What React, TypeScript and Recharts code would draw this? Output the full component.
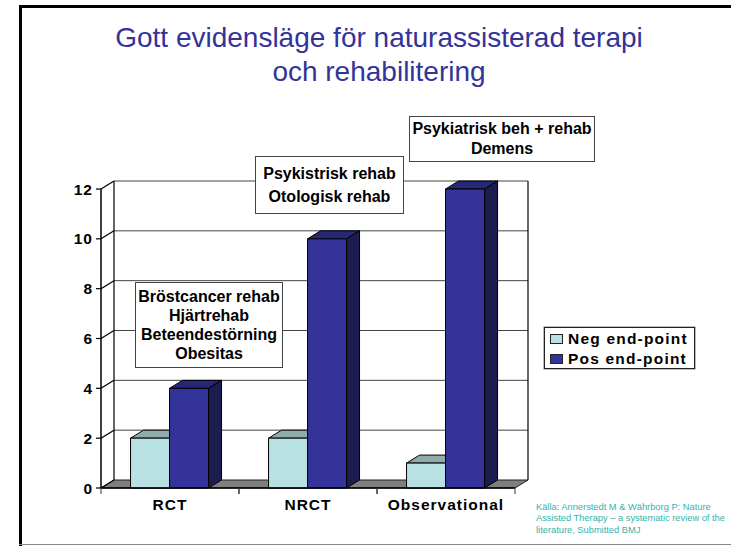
import { Bar, BarChart, CartesianGrid, Legend, XAxis, YAxis } from "recharts";

const categories = ["RCT", "NRCT", "Observational"];
const negEndPoint = [2, 2, 1];
const posEndPoint = [4, 10, 12];
const yTicks = [0, 2, 4, 6, 8, 10, 12];
const titleLines = ["Gott evidensläge för naturassisterad terapi", "och rehabilitering"];
const sourceLines = [
  "Källa: Annerstedt M & Währborg P: Nature",
  "Assisted Therapy –  a systematic review of  the",
  "literature, Submitted BMJ",
];

const data = categories.map((name, i) => ({
  name,
  neg: negEndPoint[i],
  pos: posEndPoint[i],
}));

const FONT = "'Liberation Sans', Arial, sans-serif";
const DX = 13;
const DY = 8;
const PLOT_H = 299;
const BAND = 138;

function bar3d(front: string, top: string, side: string) {
  return (p: any) => {
    const { x, y, width, height } = p;
    return (
      <g stroke="#000" strokeWidth={1} strokeLinejoin="round">
        <path
          fill={top}
          d={`M${x},${y}l${DX},${-DY}h${width}l${-DX},${DY}z`}
        />
        <path
          fill={side}
          d={`M${x + width},${y}l${DX},${-DY}v${height}l${-DX},${DY}z`}
        />
        <rect x={x} y={y} width={width} height={height} fill={front} />
      </g>
    );
  };
}

function gridLine(p: any) {
  const { x1, x2, y1 } = p;
  const isTop = y1 < 195;
  const isFloor = y1 > 480;
  return (
    <g key={`g-${y1}`} fill="none">
      {isFloor && (
        <path
          d={`M${x1},${y1}l${DX},${-DY}H${x2 + DX}l${-DX},${DY}z`}
          fill="#7f7f7f"
          stroke="#222"
        />
      )}
      {isTop && (
        <path
          d={`M${x1 + DX},${y1 - DY}v${PLOT_H}M${x2 + DX},${y1 - DY}v${PLOT_H}`}
          stroke="#000"
          strokeWidth={1.2}
        />
      )}
      {!isFloor && (
        <path d={`M${x1 + DX},${y1 - DY}H${x2 + DX}`} stroke="#444" />
      )}
      <path d={`M${x1},${y1}l${DX},${-DY}`} stroke="#000" strokeWidth={1.2} />
    </g>
  );
}

function CategoryTick(p: any) {
  const { x, y, payload } = p;
  const left = x - BAND / 2;
  return (
    <g>
      <path
        d={`M${left},${y - 8}v6M${left + BAND},${y - 8}v6`}
        stroke="#333"
        strokeWidth={1}
      />
      <text
        x={x}
        y={y + 14}
        textAnchor="middle"
        fontFamily={FONT}
        fontSize={15.5}
        fontWeight={700}
        fill="#000"
        letterSpacing={1}
      >
        {payload.value}
      </text>
    </g>
  );
}

function LegendBox() {
  const rows = [
    { label: "Neg end-point", color: "#b9e0e3" },
    { label: "Pos end-point", color: "#333399" },
  ];
  return (
    <div
      style={{
        boxSizing: "border-box",
        width: 151,
        height: 42,
        border: "1px solid #222",
        boxShadow: "0 0 0 0.5px #777",
        background: "#fff",
        padding: "2px 0 0 5px",
        fontFamily: FONT,
        fontSize: 15.5,
        fontWeight: 700,
        letterSpacing: 1.2,
        color: "#000",
        textAlign: "left",
        whiteSpace: "nowrap",
      }}
    >
      {rows.map((r) => (
        <div key={r.label} style={{ display: "flex", alignItems: "center", height: 17, marginBottom: 3.5 }}>
          <span
            style={{
              display: "inline-block",
              boxSizing: "border-box",
              width: 13,
              height: 10,
              marginRight: 5,
              background: r.color,
              border: "1px solid #222",
            }}
          />
          {r.label}
        </div>
      ))}
    </div>
  );
}

function Note({ left, top, width, height, lines, lineHeight = 19 }: { left: number; top: number; width: number; height: number; lines: string[]; lineHeight?: number }) {
  return (
    <div
      style={{
        position: "absolute",
        left,
        top,
        width,
        height,
        boxSizing: "border-box",
        border: "1px solid #444",
        background: "#fff",
        display: "flex",
        flexDirection: "column",
        justifyContent: "center",
        alignItems: "center",
        fontFamily: FONT,
        fontSize: 16,
        fontWeight: 700,
        lineHeight: `${lineHeight}px`,
        color: "#000",
        whiteSpace: "nowrap",
      }}
    >
      {lines.map((l) => (
        <div key={l}>{l}</div>
      ))}
    </div>
  );
}

export default function App() {
  return (
    <div style={{ position: "absolute", left: 0, top: 0, width: 731, height: 546, overflow: "hidden", background: "#fff" }}>
      {/* slide frame */}
      <div style={{ position: "absolute", left: 19, top: 5, width: 712, height: 3, background: "#000" }} />
      <div style={{ position: "absolute", left: 19, top: 5, width: 3, height: 541, background: "#000" }} />
      <div style={{ position: "absolute", left: 19, top: 544, width: 712, height: 1, background: "#888" }} />

      <div
        style={{
          position: "absolute",
          left: 40,
          top: 21,
          width: 678,
          textAlign: "center",
          fontFamily: FONT,
          fontSize: 28,
          lineHeight: "34px",
          color: "#333399",
        }}
      >
        {titleLines.map((t) => (
          <div key={t}>{t}</div>
        ))}
      </div>

      <div style={{ position: "absolute", left: 0, top: 0 }}>
        <BarChart
          width={731}
          height={546}
          data={data}
          barCategoryGap="21.4%"
          barGap={0}
          margin={{ top: 189, right: 216, bottom: 0, left: 66 }}
        >
          <CartesianGrid vertical={false} horizontal={gridLine} />
          <XAxis
            dataKey="name"
            axisLine={{ stroke: "#000", strokeWidth: 1.5 }}
            tickLine={false}
            tick={<CategoryTick />}
            interval={0}
            height={58}
          />
          <YAxis
            domain={[0, 12]}
            ticks={yTicks}
            width={35}
            axisLine={{ stroke: "#000", strokeWidth: 1.5 }}
            tickLine={{ stroke: "#000", strokeWidth: 1.2 }}
            tickSize={5}
            tickMargin={3}
            tick={{ fontFamily: FONT, fontSize: 15.5, fontWeight: 700, fill: "#000", letterSpacing: 1 }}
          />
          <Legend
            layout="vertical"
            align="center"
            verticalAlign="middle"
            wrapperStyle={{ left: 544, top: 327, width: 151, height: 42 }}
            content={<LegendBox />}
          />
          <Bar dataKey="neg" name="Neg end-point" isAnimationActive={false} shape={bar3d("#b9e0e3", "#8fabad", "#8fabad")} />
          <Bar dataKey="pos" name="Pos end-point" isAnimationActive={false} shape={bar3d("#333399", "#26267a", "#1c1c4f")} />
        </BarChart>
      </div>

      <Note left={135} top={282} width={148} height={86} lines={["Bröstcancer rehab", "Hjärtrehab", "Beteendestörning", "Obesitas"]} />
      <Note left={255} top={156} width={149} height={58} lineHeight={23} lines={["Psykistrisk rehab", "Otologisk rehab"]} />
      <Note left={409} top={116} width={186} height={46} lineHeight={20} lines={["Psykiatrisk beh + rehab", "Demens"]} />

      <div
        style={{
          position: "absolute",
          left: 536,
          top: 502,
          width: 195,
          fontFamily: FONT,
          fontSize: 9.3,
          lineHeight: "11.3px",
          color: "#33b3ad",
          whiteSpace: "nowrap",
        }}
      >
        {sourceLines.map((s) => (
          <div key={s}>{s}</div>
        ))}
      </div>
    </div>
  );
}
